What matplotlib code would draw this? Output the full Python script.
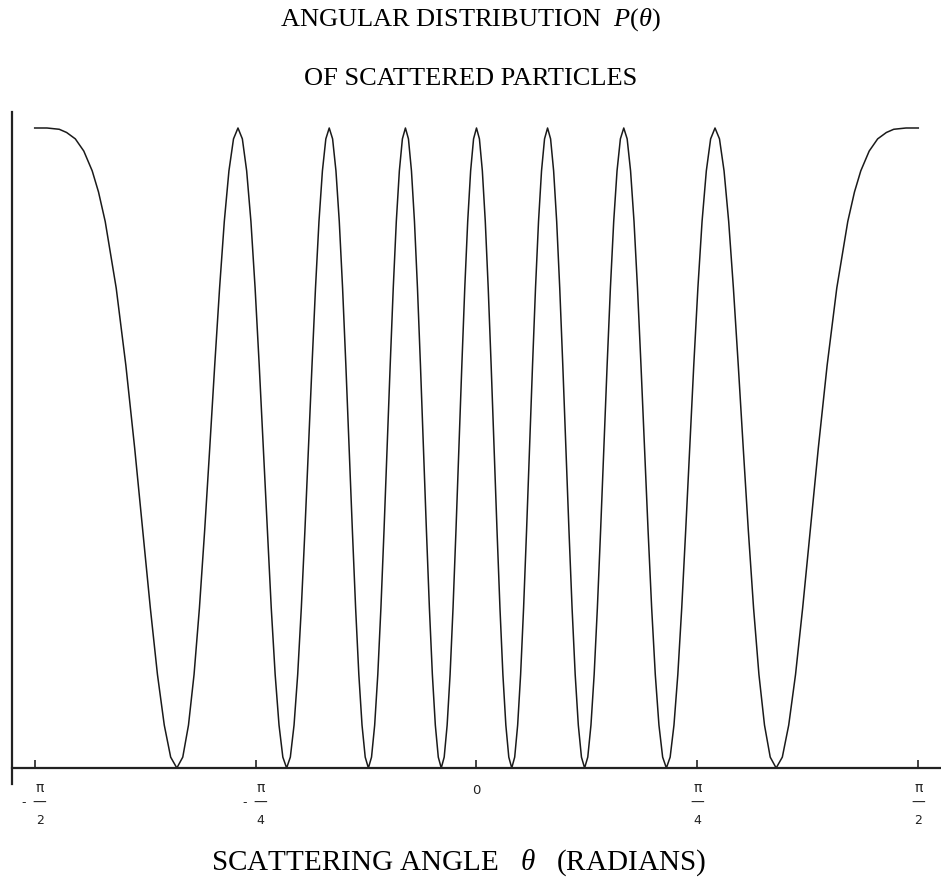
import numpy as np
import matplotlib
matplotlib.use("Agg")
import matplotlib.pyplot as plt

# ---- data (theta in degrees, relative intensity) ----
theta_deg = [
    -90.000, -87.500, -85.000, -83.500, -81.723, -80.000, -78.284, -77.000, -75.638, -73.398,
    -71.427, -69.636, -67.985, -66.444,
    -64.992, -63.604, -62.303, -61.045, -59.835, -58.671, -57.538, -56.443, -55.378, -54.341,
    -53.330, -52.335, -51.375, -50.432, -49.501, -48.590, -47.696, -46.820, -45.951, -45.101,
    -44.260, -43.433, -42.616, -41.810, -41.014, -40.228, -39.451, -38.682, -37.922, -37.168,
    -36.424, -35.685, -34.954, -34.229, -33.510, -32.797, -32.090, -31.388, -30.692, -30.000,
    -29.313, -28.630, -27.953, -27.279, -26.610, -25.944, -25.283, -24.624, -23.970, -23.318,
    -22.670, -22.024, -21.382, -20.742, -20.106, -19.471, -18.839, -18.210, -17.583, -16.957,
    -16.335, -15.714, -15.095, -14.478, -13.862, -13.248, -12.636, -12.024, -11.415, -10.807,
    -10.200, -9.594, -8.989, -8.386, -7.783, -7.181, -6.580, -5.979, -5.379, -4.780,
    -4.182, -3.583, -2.986, -2.388, -1.791, -1.194, -0.597,
    0.000,
    0.597, 1.194, 1.791, 2.388, 2.986, 3.583, 4.182, 4.780, 5.379, 5.979,
    6.580, 7.181, 7.783, 8.386, 8.989, 9.594, 10.200, 10.807, 11.415, 12.024,
    12.636, 13.248, 13.862, 14.478, 15.095, 15.714, 16.335, 16.957, 17.583, 18.210,
    18.839, 19.471, 20.106, 20.742, 21.382, 22.024, 22.670, 23.318, 23.970, 24.624,
    25.283, 25.944, 26.610, 27.279, 27.953, 28.630, 29.313, 30.000, 30.692, 31.388,
    32.090, 32.797, 33.510, 34.229, 34.954, 35.685, 36.424, 37.168, 37.922, 38.682,
    39.451, 40.228, 41.014, 41.810, 42.616, 43.433, 44.260, 45.101, 45.951, 46.820,
    47.696, 48.590, 49.501, 50.432, 51.375, 52.335, 53.330, 54.341, 55.378, 56.443,
    57.538, 58.671, 59.835, 61.045, 62.303, 63.604, 64.992, 66.444, 67.985, 69.636,
    71.427, 73.398, 75.638, 77.000, 78.284, 80.000, 81.723, 83.500, 85.000, 87.500,
    90.000,
]
p_theta = [
    1.000, 1.000, 0.998, 0.993, 0.983, 0.964, 0.933, 0.900, 0.854, 0.750,
    0.629, 0.500, 0.371, 0.250,
    0.146, 0.067, 0.017, 0.000, 0.017, 0.067, 0.146, 0.250, 0.371, 0.500,
    0.629, 0.750, 0.854, 0.933, 0.983, 1.000, 0.983, 0.933, 0.854, 0.750,
    0.629, 0.500, 0.371, 0.250, 0.146, 0.067, 0.017, 0.000, 0.017, 0.067,
    0.146, 0.250, 0.371, 0.500, 0.629, 0.750, 0.854, 0.933, 0.983, 1.000,
    0.983, 0.933, 0.854, 0.750, 0.629, 0.500, 0.371, 0.250, 0.146, 0.067,
    0.017, 0.000, 0.017, 0.067, 0.146, 0.250, 0.371, 0.500, 0.629, 0.750,
    0.854, 0.933, 0.983, 1.000, 0.983, 0.933, 0.854, 0.750, 0.629, 0.500,
    0.371, 0.250, 0.146, 0.067, 0.017, 0.000, 0.017, 0.067, 0.146, 0.250,
    0.371, 0.500, 0.629, 0.750, 0.854, 0.933, 0.983,
    1.000,
    0.983, 0.933, 0.854, 0.750, 0.629, 0.500, 0.371, 0.250, 0.146, 0.067,
    0.017, 0.000, 0.017, 0.067, 0.146, 0.250, 0.371, 0.500, 0.629, 0.750,
    0.854, 0.933, 0.983, 1.000, 0.983, 0.933, 0.854, 0.750, 0.629, 0.500,
    0.371, 0.250, 0.146, 0.067, 0.017, 0.000, 0.017, 0.067, 0.146, 0.250,
    0.371, 0.500, 0.629, 0.750, 0.854, 0.933, 0.983, 1.000, 0.983, 0.933,
    0.854, 0.750, 0.629, 0.500, 0.371, 0.250, 0.146, 0.067, 0.017, 0.000,
    0.017, 0.067, 0.146, 0.250, 0.371, 0.500, 0.629, 0.750, 0.854, 0.933,
    0.983, 1.000, 0.983, 0.933, 0.854, 0.750, 0.629, 0.500, 0.371, 0.250,
    0.146, 0.067, 0.017, 0.000, 0.017, 0.067, 0.146, 0.250, 0.371, 0.500,
    0.629, 0.750, 0.854, 0.900, 0.933, 0.964, 0.983, 0.993, 0.998, 1.000,
    1.000,
]

tick_values = [-np.pi / 2, -np.pi / 4, 0.0, np.pi / 4, np.pi / 2]
tick_signs = ["-", "-", "", "", ""]
tick_numerators = ["π", "π", "0", "π", "π"]
tick_denominators = ["2", "4", "", "4", "2"]
title_line1 = r"ANGULAR DISTRIBUTION  $P(\theta)$"
title_line2 = "OF SCATTERED PARTICLES"
x_label = r"SCATTERING ANGLE   $\theta$   (RADIANS)"

# ---- styling ----
plt.rcParams["mathtext.fontset"] = "custom"
plt.rcParams["mathtext.rm"] = "Liberation Serif"
plt.rcParams["mathtext.it"] = "Liberation Serif:italic"
plt.rcParams["mathtext.bf"] = "Liberation Serif:bold"

W, H = 941, 884
PT = 0.72  # points per pixel at 100 dpi
fig = plt.figure(figsize=(W / 100, H / 100), dpi=100)
ax = fig.add_axes([12 / W, 100 / H, 928 / W, 672 / H])

ink = "#1a1a1a"
theta = np.deg2rad(theta_deg)
ax.plot(theta, p_theta, color=ink, lw=1.1, solid_joinstyle="round")

ax.set_xlim(-1.6515, 1.648)
ax.set_ylim(-0.025, 1.025)

for s in ("top", "right"):
    ax.spines[s].set_visible(False)
ax.spines["bottom"].set_position(("data", 0.0))
for s in ("left", "bottom"):
    ax.spines[s].set_linewidth(1.6)
    ax.spines[s].set_color("#222222")

ax.set_yticks([])
ax.set_xticks(tick_values)
ax.set_xticklabels([])
ax.tick_params(axis="x", direction="in", length=6, width=1.2, color="#222222")

# Mathematica-style stacked fraction tick labels
lab_kw = dict(xycoords="data", textcoords="offset points", ha="center", va="center",
              annotation_clip=False, color="#222222", family="DejaVu Sans")
for val, sgn, num, den in zip(tick_values, tick_signs, tick_numerators, tick_denominators):
    if den == "":
        ax.annotate(num, xy=(val, 0), xytext=(0, -23 * PT), fontsize=9.5, **lab_kw)
        continue
    shift = 5 * PT if sgn else 0.0
    ax.annotate(num, xy=(val, 0), xytext=(shift, -19.5 * PT), fontsize=10, **lab_kw)
    ax.annotate("\u2014", xy=(val, 0), xytext=(shift, -35 * PT), fontsize=10, **lab_kw)
    ax.annotate(den, xy=(val, 0), xytext=(shift, -52 * PT), fontsize=9, **lab_kw)
    if sgn:
        ax.annotate(sgn, xy=(val, 0), xytext=(-11 * PT, -35 * PT), fontsize=9, **lab_kw)

fig.text(0.5, (H - 26) / H, title_line1, ha="center", va="baseline",
         fontsize=19, family="Liberation Serif")
fig.text(0.5, (H - 85) / H, title_line2, ha="center", va="baseline",
         fontsize=19, family="Liberation Serif")
fig.text(458 / W, (H - 870) / H, x_label, ha="center", va="baseline",
         fontsize=21, family="Liberation Serif")

fig.savefig("out.png", dpi=100)
